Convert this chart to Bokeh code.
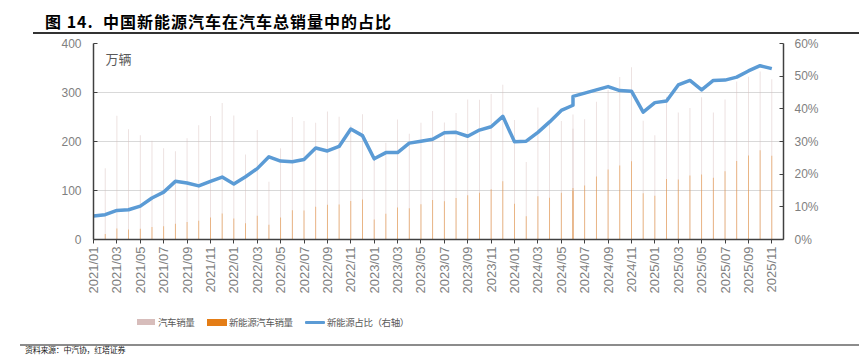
import math
from bokeh.plotting import figure
from bokeh.layouts import column
from bokeh.models import (Range1d, LinearAxis, FixedTicker, Label, Div,
                          PrintfTickFormatter, ColumnDataSource)
from bokeh.embed import file_html
from bokeh.resources import INLINE

# ---- data (万辆 / %) ----
# date of each row as placed on the chart's date axis (the source places two rows at 2024/06)
dates = [
    "2021/01", "2021/02", "2021/03", "2021/04", "2021/05", "2021/06",
    "2021/07", "2021/08", "2021/09", "2021/10", "2021/11", "2021/12",
    "2022/01", "2022/02", "2022/03", "2022/04", "2022/05", "2022/06",
    "2022/07", "2022/08", "2022/09", "2022/10", "2022/11", "2022/12",
    "2023/01", "2023/02", "2023/03", "2023/04", "2023/05", "2023/06",
    "2023/07", "2023/08", "2023/09", "2023/10", "2023/11", "2023/12",
    "2024/01", "2024/02", "2024/03", "2024/04", "2024/05", "2024/06",
    "2024/06", "2024/07", "2024/08", "2024/09", "2024/10", "2024/11",
    "2024/12", "2025/01", "2025/02", "2025/03", "2025/04", "2025/05",
    "2025/06", "2025/07", "2025/08", "2025/09", "2025/10", "2025/11",
]
total_sales = [
    250.3, 145.5, 252.6, 225.2, 212.8, 201.5, 186.4, 179.9, 206.7, 233.2, 252.2, 278.6,
    253.1, 173.7, 223.4, 118.1, 186.2, 250.2, 242.0, 238.3, 261.0, 250.5, 232.4, 255.6,
    164.9, 197.6, 245.1, 215.9, 238.2, 262.2, 238.7, 258.2, 285.8, 285.3, 297.0, 315.6,
    243.9, 158.4, 269.4, 235.9, 241.7, 255.2, 226.2, 245.3, 280.9, 305.3, 331.7, 351.6,
    242.3, 212.9, 291.5, 259.0, 268.6, 290.4, 259.3, 285.7, 322.6, 332.2, 342.9, 327.2,
]
nev_sales = [
    17.9, 11.0, 22.6, 20.6, 21.7, 25.6, 27.1, 32.1, 35.7, 38.3, 45.0, 53.1,
    43.1, 33.4, 48.4, 29.9, 44.7, 59.6, 59.3, 66.6, 70.8, 71.4, 78.6, 81.4,
    40.8, 52.5, 65.3, 63.6, 71.7, 80.6, 78.0, 84.6, 90.4, 95.6, 102.6, 119.1,
    72.9, 47.7, 88.3, 85.0, 95.5, 104.9, 99.1, 110.0, 128.7, 143.0, 151.2, 159.6,
    94.4, 89.2, 123.7, 122.6, 130.7, 132.9, 126.2, 139.5, 160.4, 171.5, 182.3, 171.0,
]
nev_share = [
    7.2, 7.6, 8.9, 9.1, 10.2, 12.7, 14.5, 17.8, 17.3, 16.4, 17.8, 19.1,
    17.0, 19.2, 21.7, 25.3, 24.0, 23.8, 24.5, 28.0, 27.1, 28.5, 33.8, 31.8,
    24.7, 26.6, 26.6, 29.5, 30.1, 30.7, 32.7, 32.8, 31.6, 33.5, 34.5, 37.7,
    29.9, 30.1, 32.8, 36.0, 39.5, 41.1, 43.8, 44.8, 45.8, 46.8, 45.6, 45.4,
    39.0, 41.9, 42.4, 47.3, 48.7, 45.8, 48.7, 48.8, 49.7, 51.6, 53.2, 52.3,
]
tick_labels = [
    "2021/01", "2021/03", "2021/05", "2021/07", "2021/09", "2021/11",
    "2022/01", "2022/03", "2022/05", "2022/07", "2022/09", "2022/11",
    "2023/01", "2023/03", "2023/05", "2023/07", "2023/09", "2023/11",
    "2024/01", "2024/03", "2024/05", "2024/07", "2024/09", "2024/11",
    "2025/01", "2025/03", "2025/05", "2025/07", "2025/09", "2025/11",
]
left_ticks = [0, 100, 200, 300, 400]
right_ticks = [0, 10, 20, 30, 40, 50, 60]
series_names = ["汽车销量", "新能源汽车销量", "新能源占比（右轴）"]
title_text = "图 14.&nbsp; 中国新能源汽车在汽车总销量中的占比"
source_text = "资料来源：中汽协，红塔证券"

CJK = "Noto Sans CJK SC"
LAT = "Liberation Sans"
C_TOTAL = "#D7BDBB"
C_NEV = "#E47D16"
C_SHARE = "#5B9BD5"
W = 859
TOP_H = 35
MAIN_H = 270
BOT_H = 362 - TOP_H - MAIN_H


def month_index(s):
    y, m = s.split("/")
    return (int(y) - 2021) * 12 + int(m) - 1


xs = [month_index(d) for d in dates]
tick_pos = [month_index(t) for t in tick_labels]
src = ColumnDataSource(dict(x=xs, total=total_sales, nev=nev_sales, share=nev_share))

# ---------------- header ----------------
header_html = f"""
<div style="position:relative;width:{W}px;height:{TOP_H}px;overflow:hidden;">
  <div style="position:absolute;left:45px;top:11px;line-height:21px;height:21px;
       font-family:'{CJK}';font-size:16px;font-weight:bold;color:#000;
       letter-spacing:1px;white-space:nowrap;">{title_text}</div>
  <div style="position:absolute;left:33px;top:32.3px;width:{W - 33}px;height:1.5px;
       background:#333333;"></div>
</div>"""
top = Div(text=header_html, width=W, height=TOP_H, margin=(0, 0, 0, 0))

# ---------------- main chart ----------------
p = figure(width=W, height=MAIN_H, output_backend="svg", toolbar_location=None,
           x_range=Range1d(0, 59), y_range=Range1d(0, 400),
           min_border_left=93, min_border_right=76, min_border_top=8, min_border_bottom=66,
           margin=(0, 0, 0, 0))
p.extra_y_ranges = {"pct": Range1d(0, 60)}
p.outline_line_color = None

p.vbar(x="x", top="total", width=0.07, source=src,
       fill_color=C_TOTAL, fill_alpha=0.55, line_color=None)
p.vbar(x="x", top="nev", width=0.07, source=src,
       fill_color=C_NEV, fill_alpha=0.55, line_color=None)
p.line(x="x", y="share", source=src, y_range_name="pct",
       line_color=C_SHARE, line_width=3.5, line_join="round")

xa = p.xaxis[0]
xa.ticker = FixedTicker(ticks=tick_pos)
xa.major_label_overrides = {tp: tl for tp, tl in zip(tick_pos, tick_labels)}
xa.major_label_orientation = math.pi / 2
xa.major_label_text_font = LAT
xa.major_label_text_font_size = "13px"
xa.major_label_text_color = "#7F7F7F"
xa.major_tick_in = 0
xa.major_tick_out = 4
xa.minor_tick_line_color = None
xa.major_tick_line_color = "#404040"
xa.axis_line_color = "#404040"
xa.axis_line_width = 1.5
xa.major_label_standoff = 3
p.xgrid.visible = False

ya = p.yaxis[0]
ya.ticker = FixedTicker(ticks=left_ticks)
ya.major_label_text_font = LAT
ya.major_label_text_font_size = "12px"
ya.major_label_text_color = "#7F7F7F"
ya.major_tick_in = 4
ya.major_tick_out = 0
ya.minor_tick_line_color = None
ya.major_tick_line_color = "#404040"
ya.axis_line_color = "#404040"
ya.axis_line_width = 1.5
ya.major_label_standoff = 12
p.ygrid.ticker = FixedTicker(ticks=left_ticks)
p.ygrid.grid_line_color = "#D9D9D9"
p.ygrid.grid_line_width = 1

ra = LinearAxis(y_range_name="pct", ticker=FixedTicker(ticks=right_ticks),
                formatter=PrintfTickFormatter(format="%d%%"))
ra.major_label_text_font = LAT
ra.major_label_text_font_size = "12px"
ra.major_label_text_color = "#7F7F7F"
ra.major_tick_in = 4
ra.major_tick_out = 0
ra.minor_tick_line_color = None
ra.major_tick_line_color = "#404040"
ra.axis_line_color = "#404040"
ra.axis_line_width = 1.5
ra.major_label_standoff = 11
p.add_layout(ra, "right")

p.add_layout(Label(x=12, y=181, x_units="screen", y_units="screen", text="万辆",
                   text_baseline="middle", text_font=CJK, text_font_size="13px",
                   text_color="#595959"))

# ---------------- footer: legend + source ----------------
txt = (f"position:absolute;top:{17 - 7}px;height:14px;line-height:14px;"
       f"font-family:'{CJK}';font-size:9.5px;letter-spacing:-0.4px;color:#595959;"
       "white-space:nowrap;")
footer_html = f"""
<div style="position:relative;width:{W}px;height:{BOT_H}px;overflow:hidden;">
  <div style="position:absolute;left:137px;top:13.8px;width:18px;height:6.5px;background:{C_TOTAL};"></div>
  <div style="{txt}left:158px;">{series_names[0]}</div>
  <div style="position:absolute;left:207px;top:13.5px;width:20px;height:7px;background:{C_NEV};"></div>
  <div style="{txt}left:229px;">{series_names[1]}</div>
  <div style="position:absolute;left:305px;top:15.5px;width:20px;height:3px;background:{C_SHARE};border-radius:1px;"></div>
  <div style="{txt}left:327px;">{series_names[2]}</div>
  <div style="position:absolute;left:20px;top:39.2px;width:{W - 20}px;height:1.6px;background:#8C8C8C;"></div>
  <div style="position:absolute;left:25px;top:39px;height:12px;line-height:12px;
       font-family:'{CJK}';font-size:8px;letter-spacing:-0.3px;color:#1A1A1A;white-space:nowrap;">{source_text}</div>
</div>"""
bot = Div(text=footer_html, width=W, height=BOT_H, margin=(0, 0, 0, 0))

layout = column(top, p, bot, spacing=0, margin=(0, 0, 0, 0))
open("out.html", "w").write(file_html(layout, INLINE))
